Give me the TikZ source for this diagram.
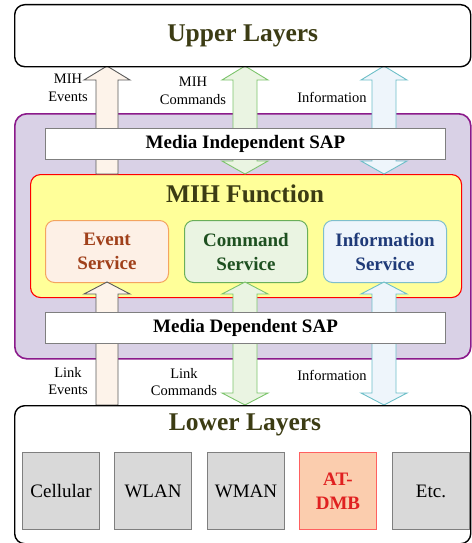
\documentclass[tikz,border=0pt]{standalone}
\usepackage{fontspec}
\setmainfont{Liberation Serif}
\usetikzlibrary{positioning}

\definecolor{titletext}{HTML}{3C3C14}
\definecolor{purpfill}{HTML}{D9D1E6}
\definecolor{purpline}{HTML}{8B1A8B}
\definecolor{yelfill}{HTML}{FFFF99}
\definecolor{evfill}{HTML}{FDF0E6}
\definecolor{evline}{HTML}{F4A460}
\definecolor{evtext}{HTML}{A0401A}
\definecolor{cmfill}{HTML}{EAF4E2}
\definecolor{cmline}{HTML}{6AAF5A}
\definecolor{cmtext}{HTML}{1E5020}
\definecolor{infill}{HTML}{EEF5FB}
\definecolor{inline}{HTML}{7FBFCC}
\definecolor{intext}{HTML}{1F3A78}
\definecolor{grayfill}{HTML}{D9D9D9}
\definecolor{grayline}{HTML}{7F7F7F}
\definecolor{dmbfill}{HTML}{FBCDAE}
\definecolor{dmbline}{HTML}{FF6060}
\definecolor{dmbtext}{HTML}{E02020}
\definecolor{evarrow}{HTML}{FDF3EA}
\definecolor{evarrowline}{HTML}{5A5A5A}
\definecolor{cmarrowline}{HTML}{7CC46C}
\definecolor{inarrowline}{HTML}{6DBFC8}

\tikzset{
  layerbox/.style={draw=black, line width=1.4pt, fill=white, rounded corners=10pt, anchor=north west, inner sep=0pt},
  sapbox/.style={draw=grayline, line width=1pt, fill=white, anchor=north west, inner sep=0pt,
    minimum width=400pt, minimum height=31pt, font=\fontsize{19}{22}\selectfont\bfseries},
  servicebox/.style={line width=1pt, rounded corners=9pt, anchor=north west, inner sep=0pt,
    minimum width=123pt, minimum height=62pt, align=center,
    font=\fontsize{19}{24}\selectfont\bfseries},
  techbox/.style={draw=grayline, fill=grayfill, line width=1pt, anchor=north west, inner sep=0pt,
    minimum width=77pt, minimum height=77pt, align=center, font=\fontsize{19}{24}\selectfont},
  titletxt/.style={text=titletext, font=\fontsize{25.5}{30}\selectfont\bfseries},
  flowlabel/.style={align=center, font=\fontsize{14.5}{17.5}\selectfont, inner sep=0pt},
  arrowshape/.style={line width=0.9pt, line join=miter},
}

% single up arrow: centre x, tip y, head base y, tail y
\newcommand\uparrowshape[5]{%
  \draw[arrowshape,#5] (#1-11,#4) -- (#1-11,#3) -- (#1-23,#3) -- (#1,#2)
    -- (#1+23,#3) -- (#1+11,#3) -- (#1+11,#4) -- cycle;}
% double arrow: centre x, top tip y, top head base y, bottom head base y, bottom tip y
\newcommand\dblarrowshape[6]{%
  \draw[arrowshape,#6] (#1,#2) -- (#1+23,#3) -- (#1+12,#3) -- (#1+12,#4) -- (#1+23,#4)
    -- (#1,#5) -- (#1-23,#4) -- (#1-12,#4) -- (#1-12,#3) -- (#1-23,#3) -- cycle;}

\begin{document}
\begin{tikzpicture}[x=1pt, y=-1pt]
\useasboundingbox (0,0) rectangle (471,543);

% MIH layer frame
\node[draw=purpline, fill=purpfill, line width=1.6pt, rounded corners=12pt, anchor=north west,
  inner sep=0pt, minimum width=456pt, minimum height=245pt] (mih) at (14,113) {};

% MIH function block
\node[draw=red, fill=yelfill, line width=1.1pt, rounded corners=10pt, anchor=north west,
  inner sep=0pt, minimum width=431pt, minimum height=123pt] (func) at (30,174) {};
\node[titletxt, anchor=center] (functitle) at (245,194) {MIH Function};

% services
\node[servicebox, draw=evline, fill=evfill, text=evtext] (event) at (45,220) {Event\\Service};
\node[servicebox, draw=cmline, fill=cmfill, text=cmtext] (command) at (184,220) {Command\\Service};
\node[servicebox, draw=inline, fill=infill, text=intext] (info) at (323,220) {Information\\Service};

% arrows between upper layers and the MIH function
\uparrowshape{107}{66}{80}{174}{draw=evarrowline, fill=evarrow}
\dblarrowshape{245}{66}{80}{161}{174}{draw=cmarrowline, fill=cmfill}
\dblarrowshape{384}{66}{80}{161}{174}{draw=inarrowline, fill=infill}

% arrows between the services and lower layers
\uparrowshape{107}{282}{294}{405}{draw=evarrowline, fill=evarrow}
\dblarrowshape{245}{282}{294}{393}{405}{draw=cmarrowline, fill=cmfill}
\dblarrowshape{384}{282}{294}{393}{405}{draw=inarrowline, fill=infill}

% service access points
\node[sapbox] (misap) at (45,128) {};
\node at (misap.center) {\fontsize{19}{22}\selectfont\bfseries Media Independent SAP};
\node[sapbox] (mdsap) at (45,312) {};
\node at (mdsap.center) {\fontsize{19}{22}\selectfont\bfseries Media Dependent SAP};

% upper layers
\node[layerbox, minimum width=456pt, minimum height=62pt] (upper) at (14,4) {};
\node[titletxt] at (upper.center) {Upper Layers};

% lower layers
\node[layerbox, minimum width=456pt, minimum height=138pt] (lower) at (14,405) {};
\node[titletxt] (lowertitle) at (245,425) {Lower Layers};
\node[techbox] (cell) at (22,452) {Cellular};
\node[techbox] (wlan) at (114,452) {WLAN};
\node[techbox] (wman) at (207,452) {WMAN};
\node[techbox, draw=dmbline, fill=dmbfill, text=dmbtext, font=\fontsize{19}{24}\selectfont\bfseries] (dmb) at (299,452) {AT-\\DMB};
\node[techbox] (etc) at (392,452) {Etc.};

% flow labels
\node[flowlabel] (l1) at (68,88) {MIH\\Events};
\node[flowlabel] (l2) at (193,91) {MIH\\Commands};
\node[flowlabel] (l3) at (332,97) {Information};
\node[flowlabel] (l4) at (68,381) {Link\\Events};
\node[flowlabel] (l5) at (184,382) {Link\\Commands};
\node[flowlabel] (l6) at (332,375) {Information};
\end{tikzpicture}
\end{document}
